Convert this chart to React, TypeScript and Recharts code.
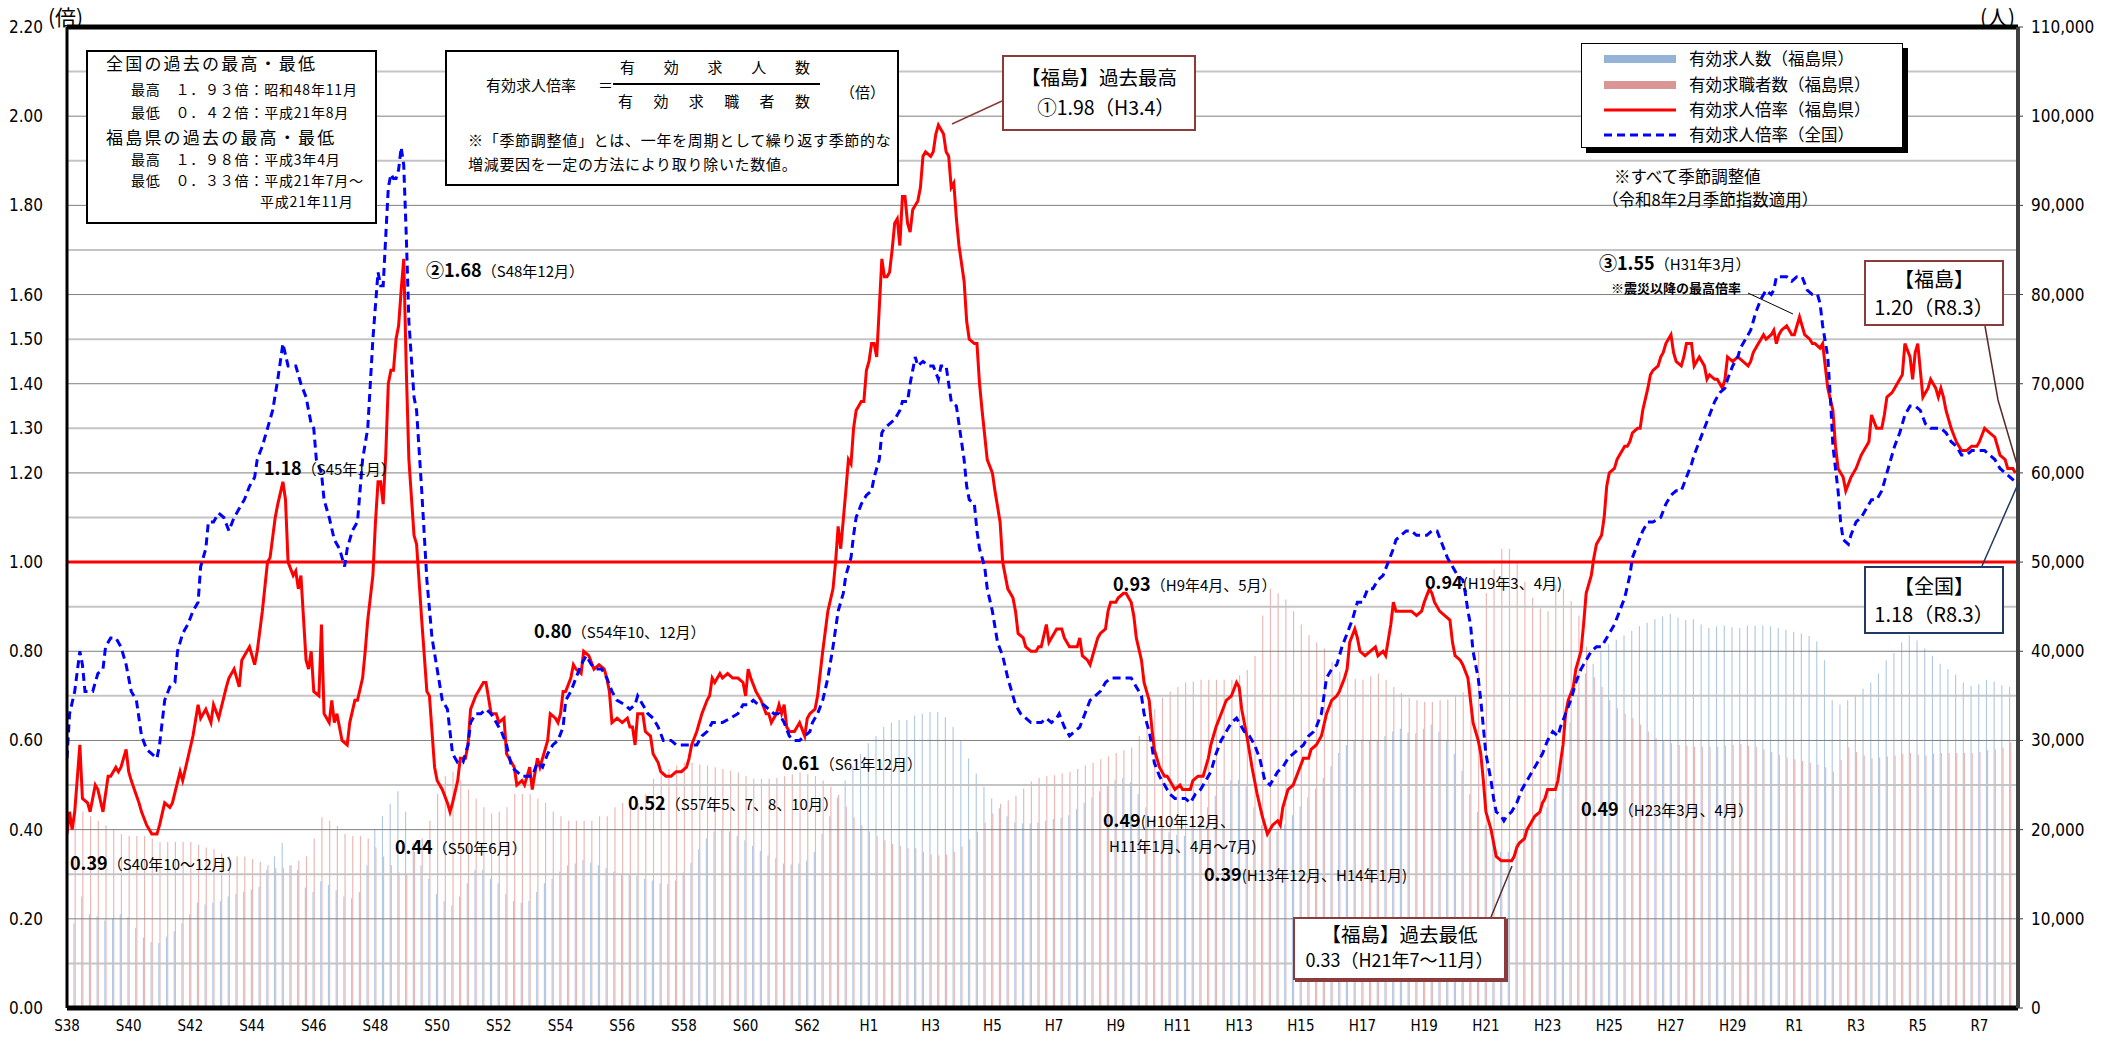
import React from 'react';
import { ComposedChart, Bar, Line, XAxis, YAxis, ReferenceLine } from 'recharts';

// x axis: month index since 1963-01 (S38.1) ; labels every 24 months
const xTickLabels = ['S38','S40','S42','S44','S46','S48','S50','S52','S54','S56','S58','S60','S62','H1','H3','H5','H7','H9','H11','H13','H15','H17','H19','H21','H23','H25','H27','H29','R1','R3','R5','R7'];
const ratioTicks = [0, 0.2, 0.4, 0.6, 0.8, 1.0, 1.2, 1.3, 1.4, 1.5, 1.6, 1.8, 2.0, 2.2];
const countTicks = [0, 10000, 20000, 30000, 40000, 50000, 60000, 70000, 80000, 90000, 100000, 110000];
const gridMinor = [0.1, 0.3, 0.5, 0.7, 0.9, 1.1, 1.3, 1.5, 1.7, 1.9, 2.1];
const gridMajor = [0.2, 0.4, 0.6, 0.8, 1.2, 1.4, 1.6, 1.8, 2.0];

// quarterly (Jan, Apr, Jul, Oct) 1963 .. 2026 Jan : 有効求職者数（福島県）
const seekers = [
  22500, 22500, 22000, 21500, 21000, 20500, 20000, 19500, 19300, 19300, 19300, 19000,
  18600, 18600, 18600, 18600, 18600, 18300, 18000, 17800, 17300, 17000, 17000, 17000,
  16700, 16400, 16000, 15700, 15700, 16000, 16500, 17000, 19000, 21400, 21000, 20400,
  19500, 19300, 19300, 19000, 18000, 17000, 16000, 15200, 15000, 17500, 19000, 21000,
  24000, 26000, 26500, 25500, 24500, 23500, 22500, 21800, 22000, 22500, 24000, 24000,
  24000, 23500, 23000, 22000, 21500, 21000, 21000, 21000, 21000, 21500, 21500, 22500,
  23000, 23500, 23000, 24000, 25700, 26300, 26800, 27200, 27500, 27500, 27300, 27200,
  27000, 26800, 26600, 26400, 26000, 25700, 25700, 25700, 25800, 26000, 26200, 26400,
  26200, 26000, 25500, 24800, 23900, 22600, 21400, 20500, 19800, 19300, 18800, 18400,
  18200, 17900, 17900, 17500, 17200, 17100, 17200, 17500, 18100, 18900, 19800, 20800,
  21800, 22900, 23300, 23800, 24600, 25400, 25800, 26000, 26100, 26300, 26500, 26800,
  27200, 27500, 27900, 28200, 28600, 28900, 29200, 30500, 32200, 33500, 34800, 35500,
  36000, 36500, 36600, 36800, 36800, 36800, 36800, 36800, 37300, 37900, 39500, 44000,
  47000, 46500, 45800, 44500, 43000, 41800, 41000, 40300, 38800, 37700, 37100, 36900,
  36800, 37200, 37500, 36800, 36000, 35300, 34800, 34500, 34300, 34300, 34500, 34600,
  35000, 35400, 36500, 40000, 46500, 49200, 51500, 51500, 50000, 47800, 46000, 44800,
  44500, 47500, 47000, 45600, 44000, 40500, 37100, 36000, 34500, 33600, 33000, 32500,
  31800, 31000, 30300, 29900, 29700, 29500, 29400, 29300, 29300, 29300, 29300, 29400,
  29500, 29600, 29400, 29300, 29000, 28700, 28400, 28100, 27900, 27700, 27500, 27300,
  27000, 26500, 27800, 29200, 28700, 28300, 28000, 28100, 28200, 28300, 28500, 28600,
  28400, 28300, 28500, 28600, 28600, 28600, 28600, 28600, 28700, 28900, 29000, 29200,
  29800,
];

// quarterly : 有効求人数（福島県）
const offers = [
  8800, 9500, 12500, 10500, 10300, 9800, 10000, 10500, 10200, 9000, 7900, 7400,
  7300, 8000, 8600, 9500, 10500, 11800, 11600, 11800, 12000, 12500, 12800, 13000,
  13300, 13600, 15500, 17000, 18500, 16000, 15500, 13500, 13000, 14200, 13800, 13200,
  12500, 12300, 13000, 16000, 20000, 21500, 22900, 24300, 22000, 18500, 16000, 14500,
  12800, 12000, 11500, 12500, 14000, 15500, 15500, 14500, 14000, 12800, 12000, 11800,
  12000, 13000, 14000, 14500, 15300, 16000, 16200, 16600, 16300, 16000, 15700, 15300,
  15000, 15000, 14800, 14500, 14300, 14000, 13900, 14300, 15200, 16300, 17800, 19000,
  19800, 20000, 19800, 19300, 18800, 18200, 17600, 17100, 16800, 16200, 16100, 16200,
  16500, 17500, 19500, 21500, 23600, 25500, 27100, 28500, 29700, 30500, 31500, 32000,
  32300, 32300, 32800, 33000, 33200, 33200, 32600, 31500, 30000, 28000, 26300, 24800,
  23500, 22400, 21500, 20800, 20700, 20700, 20800, 21000, 21200, 21300, 21600, 22300,
  23000, 23600, 24300, 25000, 25600, 25800, 25300, 24000, 22500, 21200, 20200, 19700,
  19400, 19300, 20500, 21200, 22500, 23800, 24800, 25500, 25600, 24800, 22500, 20500,
  19300, 19800, 20600, 21600, 22600, 23600, 24600, 25800, 27100, 28600, 29500, 30000,
  30000, 30000, 30000, 30500, 31000, 31300, 30900, 30800, 31300, 31800, 31000, 30000,
  28500, 26600, 24000, 22000, 20500, 19000, 17500, 17500, 18500, 20000, 21200, 22000,
  22500, 23500, 28000, 32000, 35000, 37500, 38600, 40000, 40800, 41300, 41800, 42300,
  42800, 43200, 43600, 43900, 44200, 43800, 43500, 43600, 43000, 42600, 42800, 42900,
  42700, 42600, 42900, 42900, 42900, 42800, 42600, 42400, 42200, 42000, 41700, 41100,
  39000, 34500, 34000, 34500, 35000, 35800, 36500, 37500, 39000, 39800, 41000, 41800,
  41200, 40300, 39500, 38600, 38000, 37400, 36500, 36100, 36300, 36800, 36600, 36200,
  36000,
];

// 有効求人倍率（福島県） [month index, ratio]
const fukushimaRatio: [number, number][] = [
  [0,0.39],[1,0.44],[2,0.40],[3,0.44],[5,0.59],[6,0.47],[8,0.46],[9,0.44],[11,0.50],[12,0.49],[14,0.44],[16,0.52],[17,0.52],[19,0.54],[20,0.53],[21,0.54],[23,0.58],[24,0.53],[25,0.51],[28,0.46],[29,0.44],[31,0.41],[33,0.39],[35,0.39],[36,0.41],[38,0.46],[40,0.45],[41,0.46],[44,0.53],[45,0.51],[49,0.61],[51,0.68],[52,0.65],[54,0.67],[56,0.64],[57,0.68],[59,0.65],[62,0.72],[63,0.74],[65,0.76],[67,0.72],[68,0.78],[69,0.79],[71,0.81],[73,0.77],[74,0.80],[76,0.89],[78,1.00],[79,1.01],[81,1.10],[82,1.13],[84,1.18],[85,1.14],[86,1.00],[88,0.97],[89,0.98],[90,0.94],[91,0.97],[93,0.78],[94,0.76],[95,0.80],[96,0.71],[98,0.70],[99,0.86],[100,0.66],[102,0.64],[103,0.69],[104,0.64],[105,0.66],[107,0.60],[109,0.59],
  [110,0.64],[112,0.69],[113,0.69],[115,0.74],[116,0.80],[117,0.87],[119,0.97],[120,1.09],[121,1.18],[122,1.18],[123,1.13],[124,1.24],[125,1.40],[126,1.43],[127,1.43],[128,1.50],[129,1.53],[130,1.61],[131,1.68],[132,1.43],[133,1.23],[135,1.06],[136,1.04],[138,0.87],[140,0.71],[141,0.70],[143,0.54],[144,0.51],[146,0.49],[148,0.46],[149,0.44],[150,0.46],[152,0.51],[153,0.56],[155,0.56],[156,0.59],[157,0.67],[159,0.70],[161,0.72],[162,0.73],[163,0.73],[165,0.66],[167,0.66],[168,0.64],[170,0.65],[171,0.57],[174,0.54],[175,0.50],[177,0.51],[178,0.50],[180,0.54],[181,0.49],[183,0.56],[184,0.54],[185,0.56],[187,0.60],[188,0.66],[190,0.65],[191,0.64],[192,0.66],[193,0.71],[194,0.71],[196,0.74],[197,0.77],[198,0.76],[200,0.75],[201,0.80],[203,0.79],[205,0.76],[207,0.77],[209,0.76],[210,0.74],[211,0.71],[212,0.64],[214,0.65],
  [216,0.64],[218,0.65],[219,0.63],[220,0.63],[221,0.59],[222,0.66],[224,0.66],[225,0.62],[227,0.61],[228,0.57],[230,0.55],[231,0.53],[233,0.52],[235,0.52],[237,0.53],[239,0.53],[241,0.54],[242,0.56],[243,0.59],[245,0.62],[247,0.66],[249,0.69],[250,0.70],[251,0.74],[252,0.73],[254,0.75],[255,0.74],[257,0.75],[259,0.74],[261,0.74],[263,0.73],[264,0.70],[265,0.76],[266,0.74],[268,0.71],[270,0.69],[272,0.66],[273,0.66],[274,0.64],[276,0.66],[277,0.68],[278,0.66],[279,0.68],[280,0.63],[281,0.62],[283,0.62],[285,0.64],[287,0.61],[288,0.65],[289,0.66],[291,0.67],[292,0.70],[294,0.80],[296,0.89],[298,0.94],[299,1.00],[300,1.08],[301,1.03],[303,1.16],[304,1.23],[305,1.22],[306,1.30],[307,1.34],[309,1.36],[310,1.36],[311,1.43],[312,1.45],[313,1.49],[314,1.49],[315,1.46],[317,1.68],[318,1.64],[319,1.64],[320,1.65],[321,1.70],[322,1.76],[323,1.77],
  [324,1.71],[325,1.82],[326,1.82],[327,1.76],[328,1.74],[329,1.79],[331,1.81],[332,1.84],[333,1.91],[334,1.92],[336,1.91],[337,1.92],[338,1.96],[339,1.98],[341,1.96],[342,1.92],[343,1.91],[344,1.84],[345,1.85],[346,1.77],[347,1.71],[349,1.63],[350,1.54],[351,1.50],[353,1.49],[354,1.49],[355,1.40],[356,1.34],[358,1.23],[360,1.20],[361,1.16],[363,1.09],[364,1.00],[366,0.94],[367,0.93],[368,0.92],[369,0.89],[370,0.84],[372,0.83],[373,0.81],[375,0.80],[377,0.80],[378,0.81],[379,0.81],[381,0.86],[382,0.82],[384,0.84],[385,0.85],[387,0.85],[388,0.83],[390,0.81],[391,0.81],[393,0.81],[394,0.83],[395,0.79],[397,0.78],[398,0.77],[399,0.79],[401,0.83],[402,0.84],[404,0.85],[405,0.89],[406,0.91],[408,0.91],[409,0.92],[411,0.93],[412,0.93],[414,0.91],[415,0.88],[416,0.83],[418,0.78],[419,0.73],[421,0.69],[422,0.63],[423,0.58],[425,0.54],[427,0.52],[428,0.52],[429,0.51],[431,0.49],[433,0.50],[434,0.49],[436,0.49],[437,0.49],
  [438,0.51],[440,0.52],[442,0.52],[444,0.56],[445,0.59],[447,0.63],[449,0.66],[451,0.69],[453,0.70],[455,0.73],[456,0.72],[457,0.67],[459,0.61],[461,0.54],[463,0.48],[465,0.43],[467,0.39],[469,0.41],[471,0.42],[472,0.41],[473,0.45],[475,0.49],[477,0.50],[479,0.53],[481,0.56],[483,0.56],[484,0.58],[486,0.59],[488,0.61],[490,0.66],[492,0.69],[494,0.70],[495,0.71],[497,0.74],[498,0.76],[499,0.82],[501,0.85],[502,0.83],[503,0.80],[505,0.79],[507,0.80],[509,0.81],[510,0.79],[512,0.80],[513,0.79],[515,0.86],[516,0.91],[517,0.89],[519,0.89],[521,0.89],[523,0.89],[525,0.88],[527,0.89],[528,0.91],[530,0.94],[531,0.93],[532,0.91],[534,0.89],[536,0.88],[538,0.87],[539,0.82],[540,0.79],[542,0.78],[543,0.77],[545,0.74],
  [546,0.69],[547,0.64],[549,0.60],[550,0.57],[551,0.51],[552,0.44],[554,0.40],[555,0.37],[556,0.34],[558,0.33],[560,0.33],[562,0.33],[563,0.34],[564,0.36],[565,0.37],[567,0.38],[568,0.40],[569,0.41],[571,0.43],[573,0.44],[574,0.46],[575,0.47],[576,0.49],[578,0.49],[579,0.49],[580,0.51],[582,0.59],[583,0.66],[584,0.69],[586,0.72],[587,0.76],[589,0.80],[590,0.86],[591,0.93],[593,0.97],[594,1.01],[595,1.04],[597,1.06],[598,1.10],[599,1.17],[600,1.20],[602,1.21],[603,1.23],[604,1.24],[606,1.26],[607,1.26],[608,1.27],[609,1.29],[611,1.30],[612,1.30],[613,1.34],[615,1.39],[616,1.42],[617,1.43],[619,1.44],[620,1.46],[621,1.47],[622,1.49],[624,1.51],[625,1.47],[626,1.45],[628,1.44],[629,1.46],[630,1.49],[632,1.49],[633,1.44],[634,1.45],[635,1.46],[637,1.44],[638,1.41],[639,1.42],[641,1.41],[642,1.41],[644,1.39],[645,1.41],[646,1.46],[648,1.45],[650,1.46],[652,1.45],[654,1.44],[655,1.45],
  [656,1.47],[658,1.49],[659,1.50],[660,1.51],[661,1.50],[663,1.51],[664,1.52],[665,1.49],[666,1.51],[667,1.52],[669,1.53],[670,1.52],[671,1.51],[672,1.51],[673,1.53],[674,1.55],[675,1.53],[676,1.51],[678,1.50],[679,1.49],[680,1.49],[682,1.48],[683,1.49],[684,1.44],[685,1.39],[687,1.34],[688,1.26],[689,1.21],[691,1.19],[692,1.16],[694,1.19],[696,1.21],[698,1.24],[700,1.26],[701,1.27],[702,1.33],[704,1.30],[706,1.30],[707,1.33],[708,1.37],[710,1.38],[711,1.39],[713,1.41],[714,1.42],[715,1.49],[717,1.46],[718,1.41],[719,1.47],[720,1.49],[721,1.43],[722,1.37],[724,1.39],[725,1.41],[727,1.39],[728,1.37],[729,1.39],[730,1.37],[731,1.34],[733,1.30],[735,1.27],[737,1.25],[739,1.25],[741,1.26],[743,1.26],[744,1.27],[746,1.30],[748,1.29],[750,1.28],[751,1.26],[752,1.24],[754,1.23],[755,1.21],[757,1.21],[758,1.20],
];

// 有効求人倍率（全国） [month index, ratio]
const nationalRatio: [number, number][] = [
  [0,0.56],[1,0.66],[3,0.71],[5,0.80],[6,0.77],[7,0.71],[10,0.71],[12,0.75],[14,0.76],[15,0.81],[17,0.83],[19,0.83],[21,0.81],[23,0.77],[25,0.71],[27,0.69],[29,0.61],[31,0.58],[33,0.57],[35,0.56],[36,0.59],[38,0.69],[40,0.72],[42,0.73],[43,0.80],[45,0.84],[47,0.86],[49,0.89],[51,0.91],[52,0.99],[54,1.03],[55,1.09],[57,1.09],[59,1.11],[61,1.10],[63,1.07],[65,1.10],[67,1.12],[69,1.14],[71,1.17],[73,1.19],[74,1.23],[76,1.26],[78,1.30],[80,1.34],[82,1.41],[84,1.49],[86,1.44],[87,1.44],[89,1.44],[91,1.40],[93,1.37],[95,1.31],[96,1.30],[97,1.23],[99,1.20],[100,1.14],[102,1.10],[104,1.05],[106,1.03],[108,0.99],[109,1.03],
  [111,1.07],[113,1.09],[114,1.16],[115,1.23],[117,1.30],[118,1.40],[119,1.50],[121,1.65],[122,1.62],[123,1.62],[124,1.73],[125,1.84],[126,1.87],[127,1.86],[128,1.86],[129,1.88],[130,1.93],[131,1.89],[132,1.73],[133,1.54],[135,1.37],[136,1.34],[138,1.16],[140,0.96],[142,0.83],[144,0.76],[146,0.69],[148,0.67],[150,0.57],[152,0.55],[154,0.55],[156,0.59],[157,0.64],[159,0.66],[161,0.66],[163,0.67],[165,0.66],[167,0.64],[169,0.62],[171,0.59],[173,0.54],[175,0.53],[177,0.52],[179,0.52],[181,0.52],[183,0.55],[185,0.54],[187,0.57],[189,0.59],[191,0.60],[193,0.63],[194,0.69],[196,0.71],[198,0.74],[200,0.77],[202,0.79],[204,0.77],[206,0.76],[208,0.76],[210,0.74],[212,0.71],[214,0.69],
  [217,0.68],[219,0.67],[221,0.68],[222,0.70],[224,0.68],[226,0.66],[228,0.65],[230,0.63],[232,0.60],[235,0.60],[237,0.59],[240,0.59],[242,0.59],[245,0.59],[247,0.61],[249,0.62],[251,0.64],[253,0.64],[255,0.64],[258,0.65],[261,0.66],[263,0.68],[265,0.68],[267,0.69],[269,0.68],[271,0.68],[273,0.67],[275,0.66],[277,0.66],[279,0.64],[281,0.61],[283,0.60],[285,0.60],[287,0.61],[289,0.62],[290,0.64],[292,0.66],[294,0.69],[296,0.74],[298,0.81],[300,0.89],[302,0.93],[303,0.97],[305,1.01],[306,1.06],[307,1.10],[309,1.13],[311,1.15],[313,1.16],[314,1.19],[316,1.23],[317,1.29],[318,1.30],[320,1.31],[322,1.32],
  [324,1.34],[325,1.36],[327,1.36],[328,1.40],[329,1.43],[330,1.46],[331,1.44],[333,1.45],[335,1.44],[337,1.44],[339,1.41],[340,1.44],[342,1.44],[343,1.40],[344,1.36],[346,1.35],[347,1.31],[349,1.23],[350,1.17],[351,1.14],[353,1.13],[354,1.07],[355,1.03],[357,0.99],[358,0.94],[360,0.89],[362,0.82],[364,0.79],[366,0.74],[368,0.70],[369,0.68],[371,0.66],[373,0.65],[375,0.64],[377,0.64],[379,0.64],[381,0.65],[383,0.64],[385,0.65],[386,0.66],[388,0.63],[390,0.61],[392,0.62],[394,0.63],[396,0.66],[398,0.69],[400,0.70],[402,0.71],[404,0.73],[406,0.74],[408,0.74],[411,0.74],[414,0.74],[416,0.72],[418,0.70],[419,0.66],[421,0.62],[422,0.59],[423,0.55],[425,0.52],[427,0.50],[429,0.48],[431,0.47],[433,0.47],[435,0.47],[437,0.46],
  [439,0.48],[441,0.49],[443,0.51],[445,0.53],[447,0.57],[449,0.60],[451,0.62],[453,0.64],[455,0.65],[456,0.64],[458,0.62],[460,0.61],[462,0.59],[464,0.56],[466,0.51],[468,0.50],[469,0.51],[471,0.53],[473,0.54],[475,0.56],[477,0.57],[479,0.58],[481,0.59],[483,0.61],[485,0.62],[486,0.63],[488,0.66],[489,0.70],[490,0.74],[492,0.76],[494,0.77],[496,0.81],[498,0.84],[500,0.87],[502,0.91],[504,0.91],[506,0.94],[508,0.94],[510,0.96],[512,0.97],[514,1.00],[516,1.03],[517,1.05],[519,1.06],[521,1.07],[523,1.07],[525,1.06],[527,1.06],[529,1.06],[531,1.07],[533,1.07],[535,1.04],[537,1.01],[539,0.99],[541,0.97],[543,0.96],[544,0.93],[545,0.89],
  [546,0.86],[547,0.80],[549,0.74],[550,0.69],[551,0.63],[552,0.57],[554,0.51],[555,0.47],[556,0.44],[558,0.43],[559,0.42],[560,0.43],[562,0.44],[564,0.46],[566,0.49],[568,0.51],[570,0.53],[572,0.55],[574,0.57],[576,0.60],[578,0.62],[580,0.61],[581,0.63],[583,0.66],[585,0.69],[587,0.73],[589,0.76],[591,0.78],[593,0.80],[595,0.81],[597,0.81],[598,0.82],[600,0.84],[602,0.86],[604,0.89],[606,0.92],[608,0.97],[609,1.01],[611,1.04],[613,1.07],[615,1.09],[617,1.09],[620,1.10],[622,1.13],[624,1.15],[626,1.16],[628,1.16],[630,1.19],[632,1.22],[633,1.24],[635,1.27],[637,1.30],[639,1.33],[641,1.36],[643,1.38],[645,1.39],[646,1.41],[648,1.44],[650,1.46],
  [651,1.48],[653,1.50],[655,1.52],[657,1.56],[659,1.59],[661,1.61],[663,1.60],[664,1.61],[665,1.64],[667,1.64],[669,1.64],[671,1.63],[673,1.64],[675,1.64],[677,1.61],[679,1.60],[681,1.60],[682,1.58],[683,1.53],[685,1.46],[686,1.37],[687,1.26],[689,1.16],[690,1.09],[691,1.05],[693,1.04],[694,1.06],[696,1.09],[698,1.10],[700,1.12],[702,1.14],[704,1.14],[706,1.16],[707,1.18],[709,1.22],[711,1.26],[713,1.29],[715,1.33],[717,1.35],[719,1.35],[721,1.34],[723,1.31],[725,1.30],[727,1.30],[729,1.30],[731,1.29],[733,1.27],[735,1.26],[737,1.24],[739,1.24],[741,1.25],[743,1.25],[745,1.25],[746,1.25],[748,1.24],[750,1.23],[752,1.21],[754,1.20],[756,1.19],[758,1.18],
];

const barData = seekers.map((s, i) => ({ m: i * 3, seekers: s, offers: offers[i] }));
const fkData = fukushimaRatio.map(([m, v]) => ({ m, v }));
const natData = nationalRatio.map(([m, v]) => ({ m, v }));
const xTicks = xTickLabels.map((_, i) => i * 24);

const W = 2114;
const H = 1040;
const JP = "'Noto Sans CJK JP', 'Noto Sans', sans-serif";
const NARROW = "'Liberation Sans Narrow', 'DejaVu Sans Condensed', 'Liberation Sans', sans-serif";

const abs = (left: number, top: number, extra: React.CSSProperties = {}): React.CSSProperties => ({
  position: 'absolute', left, top, whiteSpace: 'nowrap', lineHeight: 1, ...extra,
});

function Ann({ x, y, num, rest, numSize = 18, restSize = 15 }: { x: number; y: number; num: string; rest: string; numSize?: number; restSize?: number }) {
  return (
    <div style={abs(x, y, { fontFamily: JP, color: '#000' })}>
      <span style={{ fontWeight: 700, fontSize: numSize }}>{num}</span>
      <span style={{ fontSize: restSize }}>{rest}</span>
    </div>
  );
}

export default function App() {
  const boxText: React.CSSProperties = { fontFamily: JP, color: '#000' };
  return (
    <div style={{ position: 'absolute', left: 0, top: 0, width: W, height: H, background: '#fff', overflow: 'hidden' }}>
      <ComposedChart width={W} height={H} data={barData} margin={{ top: 27, right: 0, bottom: 0, left: 0 }} barGap={0}>
        <XAxis
          dataKey="m" type="number" domain={[0, 759]} ticks={xTicks} interval={0}
          tickFormatter={(m: number) => xTickLabels[Math.round(m / 24)]}
          height={32} tickLine={false} tickMargin={6}
          axisLine={{ stroke: '#000', strokeWidth: 5 }}
          tick={{ fontSize: 15, fill: '#000', fontFamily: NARROW }}
          allowDataOverflow
        />
        <YAxis
          yAxisId="r" orientation="left" domain={[0, 2.2]} ticks={ratioTicks} interval={0} width={67}
          tickFormatter={(v: number) => v.toFixed(2)} tickLine={false} tickMargin={18}
          axisLine={{ stroke: '#000', strokeWidth: 3 }}
          tick={{ fontSize: 17, fill: '#000', fontFamily: NARROW }}
          allowDataOverflow
        />
        <YAxis
          yAxisId="c" orientation="right" domain={[0, 110000]} ticks={countTicks} interval={0} width={96}
          tickFormatter={(v: number) => v.toLocaleString('en-US')} tickSize={5} tickMargin={8}
          tickLine={{ stroke: '#404040' }}
          axisLine={{ stroke: '#404040', strokeWidth: 4 }}
          tick={{ fontSize: 17, fill: '#000', fontFamily: NARROW }}
          allowDataOverflow
        />
        {gridMinor.map((v) => (
          <ReferenceLine key={'gm' + v} yAxisId="r" y={v} stroke="#c4c4c4" strokeWidth={2} />
        ))}
        {gridMajor.map((v) => (
          <ReferenceLine key={'gM' + v} yAxisId="r" y={v} stroke="#7f7f7f" strokeWidth={1} />
        ))}
        <Bar yAxisId="c" dataKey="offers" fill="#b2c9e6" barSize={3} isAnimationActive={false} />
        <Bar yAxisId="c" dataKey="seekers" fill="#ebb6b4" barSize={3} isAnimationActive={false} />
        <ReferenceLine yAxisId="r" y={1} stroke="#ff0000" strokeWidth={3} />
        <ReferenceLine yAxisId="r" y={2.2} stroke="#000" strokeWidth={5} />
        <Line yAxisId="r" data={fkData} dataKey="v" type="linear" stroke="#ff0000" strokeWidth={3} dot={false} isAnimationActive={false} />
        <Line yAxisId="r" data={natData} dataKey="v" type="linear" stroke="#0000ff" strokeWidth={3} strokeDasharray="8 5" dot={false} isAnimationActive={false} />
      </ComposedChart>

      {/* axis unit labels */}
      <div style={abs(48, 6, { ...boxText, fontSize: 21 })}>(倍)</div>
      <div style={abs(1980, 6, { ...boxText, fontSize: 21 })}>(人)</div>

      {/* connectors */}
      <svg width={W} height={H} style={{ position: 'absolute', left: 0, top: 0, pointerEvents: 'none' }}>
        <line x1={1002} y1={101} x2={952} y2={124} stroke="#8c3b3b" strokeWidth={1.5} />
        <line x1={1491} y1={917} x2={1512} y2={866} stroke="#5a2a2a" strokeWidth={1.5} />
        <polyline points="1985,326 1998,400 2018,468" fill="none" stroke="#5a2a2a" strokeWidth={1.5} />
        <line x1={1982} y1={566} x2={2018} y2={484} stroke="#1f3864" strokeWidth={1.5} />
        <line x1={1748} y1={293} x2={1793} y2={314} stroke="#000" strokeWidth={1} />
      </svg>

      {/* box 1 : records */}
      <div style={abs(86, 50, { width: 291, height: 174, border: '2px solid #000', background: '#fff', boxSizing: 'border-box' })} />
      <div style={abs(106, 54, { ...boxText, fontSize: 17, letterSpacing: 2.2 })}>全国の過去の最高・最低</div>
      <div style={abs(131, 82, { ...boxText, fontSize: 14, letterSpacing: 0.8 })}>最高　１．９３倍：昭和48年11月</div>
      <div style={abs(131, 105, { ...boxText, fontSize: 14, letterSpacing: 0.8 })}>最低　０．４２倍：平成21年8月</div>
      <div style={abs(106, 128, { ...boxText, fontSize: 17, letterSpacing: 2.2 })}>福島県の過去の最高・最低</div>
      <div style={abs(131, 152, { ...boxText, fontSize: 14, letterSpacing: 0.8 })}>最高　１．９８倍：平成3年4月</div>
      <div style={abs(131, 173, { ...boxText, fontSize: 14, letterSpacing: 0.8 })}>最低　０．３３倍：平成21年7月～</div>
      <div style={abs(260, 194, { ...boxText, fontSize: 14, letterSpacing: 0.8 })}>平成21年11月</div>

      {/* box 2 : formula */}
      <div style={abs(445, 50, { width: 454, height: 136, border: '2px solid #000', background: '#fff', boxSizing: 'border-box' })} />
      <div style={abs(486, 77, { ...boxText, fontSize: 15 })}>有効求人倍率</div>
      <div style={abs(598, 77, { ...boxText, fontSize: 15 })}>＝</div>
      <div style={abs(620, 59, { ...boxText, fontSize: 15, width: 190, display: 'flex', justifyContent: 'space-between' })}>
        {'有効求人数'.split('').map((c, i) => <span key={i}>{c}</span>)}
      </div>
      <div style={abs(613, 83, { width: 207, height: 0, borderTop: '2px solid #000' })} />
      <div style={abs(618, 93, { ...boxText, fontSize: 15, width: 192, display: 'flex', justifyContent: 'space-between' })}>
        {'有効求職者数'.split('').map((c, i) => <span key={i}>{c}</span>)}
      </div>
      <div style={abs(840, 84, { ...boxText, fontSize: 15 })}>（倍）</div>
      <div style={abs(468, 132, { ...boxText, fontSize: 15, letterSpacing: 0.7 })}>※「季節調整値」とは、一年を周期として繰り返す季節的な</div>
      <div style={abs(468, 156, { ...boxText, fontSize: 15, letterSpacing: 0.7 })}>増減要因を一定の方法により取り除いた数値。</div>

      {/* legend */}
      <div style={abs(1581, 43, { width: 322, height: 105, border: '1px solid #000', background: '#fff', boxSizing: 'border-box', boxShadow: '5px 5px 0 #000' })} />
      <svg width={80} height={100} style={{ position: 'absolute', left: 1600, top: 46 }}>
        <line x1={4} y1={13} x2={76} y2={13} stroke="#95b3d7" strokeWidth={8} />
        <line x1={4} y1={39} x2={76} y2={39} stroke="#d99694" strokeWidth={8} />
        <line x1={4} y1={64} x2={76} y2={64} stroke="#ff0000" strokeWidth={3} />
        <line x1={4} y1={89} x2={76} y2={89} stroke="#0000ff" strokeWidth={3} strokeDasharray="8 5" />
      </svg>
      <div style={abs(1689, 50, { ...boxText, fontSize: 16.5 })}>有効求人数（福島県）</div>
      <div style={abs(1689, 76, { ...boxText, fontSize: 16.5 })}>有効求職者数（福島県）</div>
      <div style={abs(1689, 101, { ...boxText, fontSize: 16.5 })}>有効求人倍率（福島県）</div>
      <div style={abs(1689, 126, { ...boxText, fontSize: 16.5 })}>有効求人倍率（全国）</div>
      <div style={abs(1614, 168, { ...boxText, fontSize: 16.5 })}>※すべて季節調整値</div>
      <div style={abs(1602, 191, { ...boxText, fontSize: 16.5 })}>（令和8年2月季節指数適用）</div>

      {/* annotation boxes */}
      <div style={abs(1002, 55, { width: 194, height: 76, border: '2px solid #8c3b3b', background: '#fff', boxSizing: 'border-box', ...boxText, fontSize: 19.5, textAlign: 'center', paddingTop: 10 })}>
        <div>【福島】過去最高</div>
        <div style={{ marginTop: 10, paddingLeft: 14 }}>①1.98（H3.4）</div>
      </div>
      <div style={abs(1293, 917, { width: 213, height: 63, border: '2px solid #8c3b3b', background: '#fff', boxSizing: 'border-box', ...boxText, fontSize: 19.5, textAlign: 'center', paddingTop: 5, boxShadow: '2px 2px 0 #8c3b3b' })}>
        <div>【福島】過去最低</div>
        <div style={{ marginTop: 6, fontSize: 18 }}>0.33（H21年7～11月）</div>
      </div>
      <div style={abs(1864, 260, { width: 140, height: 66, border: '2px solid #8c3b3b', background: '#fff', boxSizing: 'border-box', ...boxText, fontSize: 20, textAlign: 'center', paddingTop: 7 })}>
        <div>【福島】</div>
        <div style={{ marginTop: 8 }}>1.20（R8.3）</div>
      </div>
      <div style={abs(1864, 566, { width: 140, height: 68, border: '2px solid #1f3864', background: '#fff', boxSizing: 'border-box', ...boxText, fontSize: 20, textAlign: 'center', paddingTop: 8 })}>
        <div>【全国】</div>
        <div style={{ marginTop: 8 }}>1.18（R8.3）</div>
      </div>

      {/* value annotations */}
      <Ann x={264} y={458} num="1.18" rest="（S45年1月）" />
      <Ann x={426} y={260} num="②1.68" rest="（S48年12月）" />
      <Ann x={70} y={853} num="0.39" rest="（S40年10～12月）" />
      <Ann x={395} y={837} num="0.44" rest="（S50年6月）" />
      <Ann x={534} y={621} num="0.80" rest="（S54年10、12月）" />
      <Ann x={628} y={793} num="0.52" rest="（S57年5、7、8、10月）" />
      <Ann x={782} y={753} num="0.61" rest="（S61年12月）" />
      <Ann x={1113} y={574} num="0.93" rest="（H9年4月、5月）" />
      <Ann x={1103} y={810} num="0.49" rest="(H10年12月、" />
      <div style={abs(1109, 838, { fontFamily: JP, fontSize: 15 })}>H11年1月、4月～7月)</div>
      <Ann x={1204} y={864} num="0.39" rest="(H13年12月、H14年1月)" />
      <Ann x={1425} y={572} num="0.94" rest="(H19年3、4月)" />
      <Ann x={1581} y={799} num="0.49" rest="（H23年3月、4月）" />
      <Ann x={1599} y={253} num="③1.55" rest="（H31年3月）" />
      <div style={abs(1611, 281, { fontFamily: JP, fontSize: 13, fontWeight: 700 })}>※震災以降の最高倍率</div>
    </div>
  );
}
